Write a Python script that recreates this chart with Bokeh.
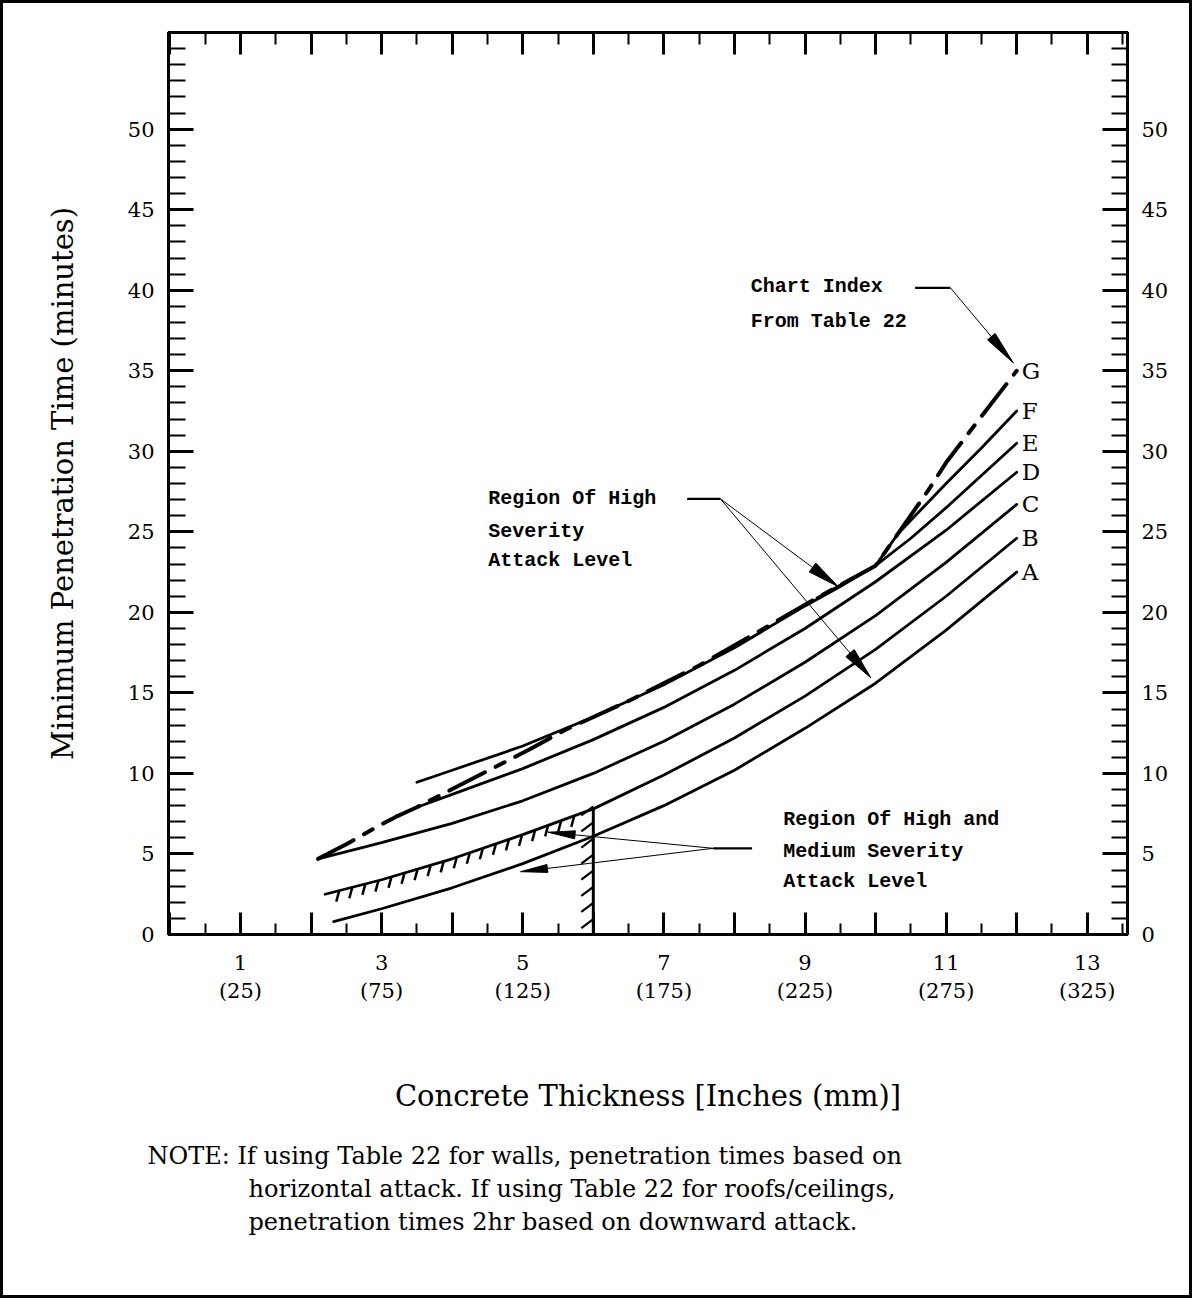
import numpy as np
from bokeh.plotting import figure
from bokeh.models import LinearAxis, FixedTicker, Label, Range1d, ColumnDataSource, Title
from bokeh.embed import file_html
from bokeh.resources import INLINE
from bokeh.core.properties import value

# ---------------- data ----------------
inch_major = list(range(0, 14))
inch_minor = [i + 0.5 for i in range(0, 14)]
inch_tick_labels = ["", "1\n(25)", "", "3\n(75)", "", "5\n(125)", "", "7\n(175)",
                    "", "9\n(225)", "", "11\n(275)", "", "13\n(325)"]
minute_major = [0, 5, 10, 15, 20, 25, 30, 35, 40, 45, 50]
minute_minor = [m for m in range(1, 56) if (m % 5 != 0) or m > 50]

curve_names = ["A", "B", "C", "D", "E", "F", "G"]

a_x = [2.32, 3, 4, 5, 6, 7, 8, 9, 10, 11, 12]
a_y = [0.8, 1.6, 2.9, 4.4, 6.1, 8.0, 10.2, 12.8, 15.6, 18.9, 22.5]
b_x = [2.2, 3, 4, 5, 6, 7, 8, 9, 10, 11, 12]
b_y = [2.5, 3.4, 4.7, 6.2, 7.8, 9.9, 12.2, 14.8, 17.7, 21.0, 24.6]
c_x = [2.1, 3, 4, 5, 6, 7, 8, 9, 10, 11, 12]
c_y = [4.7, 5.7, 6.9, 8.3, 10.0, 12.0, 14.3, 16.9, 19.8, 23.1, 26.7]
d_x = [3.5, 4, 5, 6, 7, 8, 9, 10, 11, 12]
d_y = [7.9, 8.7, 10.3, 12.1, 14.1, 16.4, 19.0, 21.9, 25.1, 28.7]
e_x = [3.5, 4, 5, 6, 7, 8, 9, 9.5, 10, 10.5, 11, 11.5, 12]
e_y = [9.45, 10.2, 11.7, 13.5, 15.5, 17.8, 20.4, 21.6, 22.9, 24.6, 26.5, 28.5, 30.5]
f_x = [9.17, 10.0, 10.32, 11.0, 11.5, 12]
f_y = [20.9, 22.9, 24.9, 28.0, 30.2, 32.5]
g_x = [2.1, 2.5, 2.9, 3.2, 3.5, 3.9, 4.3, 4.7, 5.1, 5.6, 6.5, 7.5, 8.5, 9.17,
       10.0, 10.32, 10.75, 11.0, 11.4, 12.0]
g_y = [4.7, 5.6, 6.6, 7.3, 7.9, 8.8, 9.7, 10.6, 11.5, 12.7, 14.5, 16.7, 19.2, 20.9,
       22.9, 24.9, 27.6, 29.3, 31.6, 35.0]

limit_thickness = 6.0          # vertical hatched limit line (inches)
hatch_start, hatch_end = 2.4, 5.75

note_text = [
    "NOTE: If using Table 22 for walls, penetration times based on",
    "horizontal attack. If using Table 22 for roofs/ceilings,",
    "penetration times 2hr based on downward attack.",
]

# ---------------- layout ----------------
X0, X1 = -0.02, 13.57
Y0, Y1 = 0.0, 56.0
W, H = 1192, 1298
ML, MR, MT, MB = 165, 68, 29, 367
SX = (W - ML - MR) / (X1 - X0)
SY = (H - MT - MB) / (Y1 - Y0)

SERIF = "DejaVu Serif"
MONO = "Liberation Mono"

p = figure(width=W, height=H, x_range=Range1d(X0, X1), y_range=Range1d(Y0, Y1),
           output_backend="svg", toolbar_location=None,
           x_axis_location=None, y_axis_location=None,
           min_border_left=ML, min_border_right=MR, min_border_top=MT, min_border_bottom=MB)
p.styles = {"border": "3px solid black"}
p.xgrid.visible = False
p.ygrid.visible = False
p.outline_line_color = "black"
p.outline_line_width = 3
p.background_fill_color = "white"
p.border_fill_color = "white"


def style_axis(ax, major_len, minor_len, label_size="21px", standoff=14):
    ax.axis_line_width = 3
    ax.axis_line_color = "black"
    ax.major_tick_in = major_len
    ax.major_tick_out = 0
    ax.minor_tick_in = minor_len
    ax.minor_tick_out = 0
    ax.major_tick_line_width = 3
    ax.minor_tick_line_width = 2
    ax.major_tick_line_color = "black"
    ax.minor_tick_line_color = "black"
    ax.major_label_text_font = SERIF
    ax.major_label_text_font_size = label_size
    ax.major_label_text_color = "black"
    ax.major_label_standoff = standoff


xover = {t: lab for t, lab in zip(inch_major, inch_tick_labels)}

bottom = LinearAxis(ticker=FixedTicker(ticks=inch_major, minor_ticks=inch_minor),
                    major_label_overrides=xover)
style_axis(bottom, 22, 11, standoff=16)
bottom.axis_label = "Concrete Thickness [Inches (mm)]"
bottom.axis_label_text_font = SERIF
bottom.axis_label_text_font_size = "29px"
bottom.axis_label_text_font_style = "normal"
bottom.axis_label_text_color = "black"
bottom.axis_label_standoff = 73
p.add_layout(bottom, "below")

top = LinearAxis(ticker=FixedTicker(ticks=inch_major, minor_ticks=inch_minor))
style_axis(top, 22, 12, label_size="0px", standoff=0)
top.major_label_text_alpha = 0
p.add_layout(top, "above")

left = LinearAxis(ticker=FixedTicker(ticks=minute_major, minor_ticks=minute_minor))
style_axis(left, 25, 17, standoff=14)
left.axis_label = "Minimum Penetration Time (minutes)"
left.axis_label_text_font = SERIF
left.axis_label_text_font_size = "29px"
left.axis_label_text_font_style = "normal"
left.axis_label_text_color = "black"
left.axis_label_standoff = 45
p.add_layout(left, "left")

right = LinearAxis(ticker=FixedTicker(ticks=minute_major, minor_ticks=minute_minor))
style_axis(right, 25, 16, standoff=14)
p.add_layout(right, "right")

# spacer (non-breaking space), then the note lines stacked below the x-axis title
p.add_layout(Title(text="\u00a0", standoff=18, text_font_size="2px"), "below")
for i, line in enumerate(note_text):
    t = Title(text=line, align="left", offset=-21 if i == 0 else 80,
              text_font=SERIF, text_font_size="24px", text_font_style="normal",
              text_color="black", standoff=3)
    p.add_layout(t, "below")

# ---------------- curves ----------------
solid = [(a_x, a_y), (b_x, b_y), (c_x, c_y), (d_x, d_y), (e_x, e_y), (f_x, f_y)]
for xs, ys in solid:
    p.line(xs, ys, line_color="black", line_width=2.8, line_cap="round")
p.line(g_x, g_y, line_color="black", line_width=4, line_dash="40 12 10 12", line_cap="round")

# curve letters at the right ends
ends_x = [a_x[-1], b_x[-1], c_x[-1], d_x[-1], e_x[-1], f_x[-1], g_x[-1]]
ends_y = [a_y[-1], b_y[-1], c_y[-1], d_y[-1], e_y[-1], f_y[-1], g_y[-1]]
lab_src = ColumnDataSource(dict(x=[v + 0.07 for v in ends_x], y=ends_y, t=curve_names))
p.text(x="x", y="y", text="t", source=lab_src, text_font=value(SERIF),
       text_font_size="23px", text_baseline="middle", text_align="left", text_color="black")

# ---------------- hatching ----------------
hx = np.arange(hatch_start, hatch_end, 0.185)
hy = np.interp(hx, b_x, b_y)
p.segment(x0=hx, y0=hy, x1=hx - 3 / SX, y1=hy - 11 / SY, line_color="black", line_width=2.5)

top_limit = float(np.interp(limit_thickness, b_x, b_y))
p.segment(x0=[limit_thickness], y0=[0], x1=[limit_thickness], y1=[top_limit],
          line_color="black", line_width=3)
vy = np.arange(0.4, top_limit - 0.3, 1.0)
p.segment(x0=limit_thickness - 12 / SX, y0=vy, x1=[limit_thickness] * len(vy), y1=vy + 9 / SY,
          line_color="black", line_width=2.2)

# ---------------- leaders and arrowheads ----------------


def arrowhead(tip, tail, length=30, width=10):
    tx, ty = tip[0] * SX, tip[1] * SY
    bx, by = tail[0] * SX, tail[1] * SY
    dx, dy = tx - bx, ty - by
    L = (dx * dx + dy * dy) ** 0.5
    ux, uy = dx / L, dy / L
    cx, cy = tx - ux * length, ty - uy * length
    nx, ny = -uy * width / 2, ux * width / 2
    xs = [tx / SX, (cx + nx) / SX, (cx - nx) / SX]
    ys = [ty / SY, (cy + ny) / SY, (cy - ny) / SY]
    p.patch(xs, ys, fill_color="black", line_color="black", line_width=1)


def leader(bar_from, bar_to, tips, length=30, width=10):
    p.line([bar_from[0], bar_to[0]], [bar_from[1], bar_to[1]], line_color="black", line_width=2.2)
    for tip in tips:
        p.line([bar_to[0], tip[0]], [bar_to[1], tip[1]], line_color="black", line_width=1)
        arrowhead(tip, bar_to, length, width)


leader((10.56, 40.15), (11.06, 40.15), [(11.95, 35.5)], length=34, width=10)
leader((7.33, 27.05), (7.80, 27.05), [(9.47, 21.6), (9.93, 15.95)], length=32, width=11)
leader((8.25, 5.35), (7.70, 5.35), [(5.36, 6.35), (4.97, 3.9)], length=27, width=8)

# ---------------- annotation texts ----------------
notes_in_plot = [
    ("Chart Index", 8.23, 40.2), ("From Table 22", 8.23, 38.03),
    ("Region Of High", 4.51, 27.04), ("Severity", 4.51, 25.05), ("Attack Level", 4.51, 23.25),
    ("Region Of High and", 8.69, 7.16), ("Medium Severity", 8.69, 5.17), ("Attack Level", 8.69, 3.31),
]
for txt, x, y in notes_in_plot:
    p.add_layout(Label(x=x, y=y, text=txt, text_font=MONO, text_font_style="bold",
                       text_font_size="20px", text_baseline="middle", text_align="left",
                       text_color="black"))

open("out.html", "w").write(file_html(p, INLINE))
